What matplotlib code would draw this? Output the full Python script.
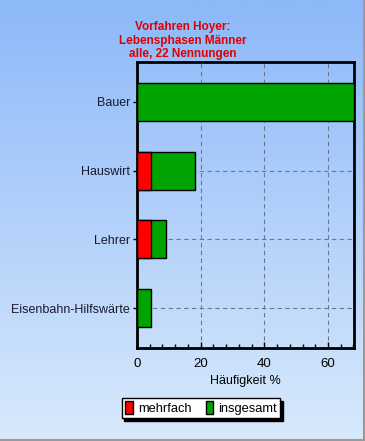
import numpy as np
import matplotlib
matplotlib.use("Agg")
import matplotlib.pyplot as plt
from matplotlib.patches import Patch
from matplotlib.lines import Line2D
from matplotlib.ticker import MultipleLocator

plt.rcParams['font.family'] = ['Liberation Sans', 'DejaVu Sans']

categories = ["Bauer", "Hauswirt", "Lehrer", "Eisenbahn-Hilfswärte"]
mehrfach = [0.0, 4.55, 4.55, 0.0]
insgesamt = [68.18, 18.18, 9.09, 4.55]
title = "Vorfahren Hoyer:\nLebensphasen Männer\nalle, 22 Nennungen"
xlabel = "Häufigkeit %"
legend_labels = ["mehrfach", "insgesamt"]

fig = plt.figure(figsize=(3.65, 4.41), dpi=100)

# gradient background
bg = fig.add_axes([0, 0, 1, 1], zorder=-10)
top = np.array([0x8d, 0xb9, 0xf9]) / 255
bot = np.array([0xd8, 0xe9, 0xfc]) / 255
t = np.linspace(0, 1, 256)[:, None]
grad = top[None, :] * (1 - t) + bot[None, :] * t
bg.imshow(grad[:, None, :], aspect='auto', extent=[0, 1, 0, 1], origin='upper')
bg.set_xlim(0, 1); bg.set_ylim(0, 1)
bg.axis('off')

ax = fig.add_axes([137/365, 93/441, 217/365, 286/441])
ax.set_facecolor('none')
y = np.arange(len(categories))
ax.barh(y, insgesamt, height=0.55, color='#00a400', edgecolor='black', linewidth=1, zorder=3)
ax.barh(y, mehrfach, height=0.55, color='#ff0000', edgecolor='black', linewidth=1, zorder=4)

ax.set_xlim(0, 68.18)
ax.set_ylim(len(categories) - 1 + 0.58, -0.58)
ax.set_yticks(y)
ax.set_yticklabels(categories, fontsize=9, color='#1a1a2e')
ax.xaxis.set_major_locator(MultipleLocator(20))
ax.xaxis.set_minor_locator(MultipleLocator(4))
ax.tick_params(axis='x', which='major', direction='in', length=4, width=1, labelsize=9.5, pad=7, top=False)
ax.tick_params(axis='x', which='minor', direction='in', length=3, width=1, top=False)
ax.tick_params(axis='y', direction='out', length=3, width=1, pad=2, right=False)
ax.grid(True, which='major', color='#6b7890', linestyle=(0, (4, 3)), linewidth=0.8, zorder=1)
for s in ax.spines.values():
    s.set_linewidth(2)
    s.set_color('black')
ax.set_xlabel(xlabel, fontsize=9, labelpad=4)

fig.text(0.5, 1 - 21/441, title, ha='center', va='top', color='#e00000',
         fontsize=8.5, fontweight='bold', linespacing=1.18)

handles = [Patch(facecolor='#ff0000', edgecolor='black'),
           Patch(facecolor='#00a400', edgecolor='black')]
leg = fig.legend(handles, legend_labels, loc='center', bbox_to_anchor=(201/365, 1 - 408/441),
                 bbox_transform=fig.transFigure, ncol=2, fontsize=9.3, frameon=True, fancybox=False,
                 handlelength=0.6, handleheight=1.1, handletextpad=0.4, columnspacing=1.1,
                 borderpad=0.25, borderaxespad=0, shadow={'color': 'black', 'alpha': 1})
leg.get_frame().set_edgecolor('black')
leg.get_frame().set_linewidth(1)
leg.get_frame().set_facecolor('white')

fig.add_artist(Line2D([363.5/365, 363.5/365], [0, 1], color='#9a9a9a', lw=1.5, transform=fig.transFigure))
fig.add_artist(Line2D([0, 1], [1.5/441, 1.5/441], color='#9a9a9a', lw=1.5, transform=fig.transFigure))

fig.savefig('out.png', dpi=100)
